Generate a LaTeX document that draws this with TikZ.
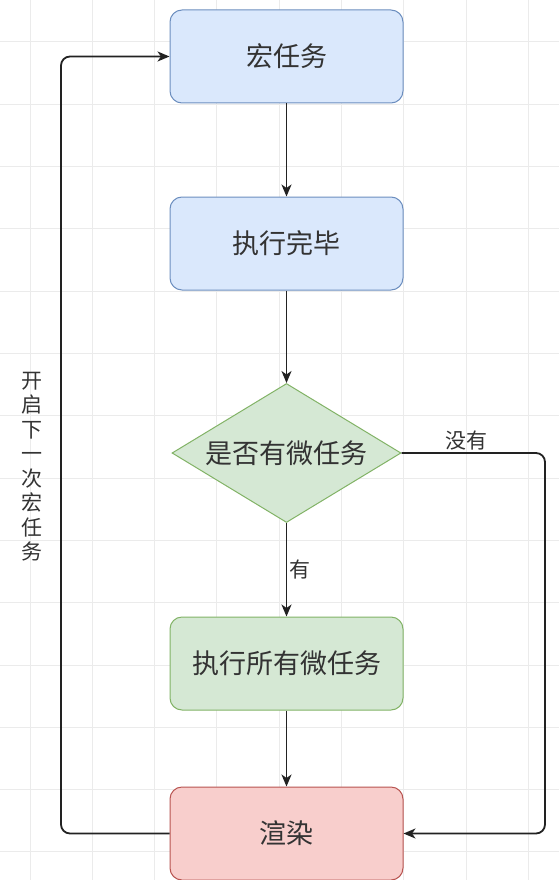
\documentclass[tikz,border=0pt]{standalone}
\usepackage{fontspec}
\usepackage{tikz}
\usetikzlibrary{shapes.geometric,arrows.meta}
\newfontfamily\cjk{Noto Sans CJK SC}
\definecolor{txt}{HTML}{333333}
\definecolor{wire}{HTML}{222222}
\definecolor{gridc}{HTML}{EBEBEB}
\definecolor{bluefill}{HTML}{DAE8FC}
\definecolor{blueline}{HTML}{6C8EBF}
\definecolor{greenfill}{HTML}{D5E8D4}
\definecolor{greenline}{HTML}{82B366}
\definecolor{redfill}{HTML}{F8CECC}
\definecolor{redline}{HTML}{B85450}
\tikzstyle{bluenode}=[draw=blueline,%
                        fill=bluefill,%
                        rectangle,%
                        rounded corners = 12pt,%
                        line width      = 1pt,%
                        minimum width   = 233pt,%
                        minimum height  = 93pt,%
                        text=txt,%
                        font=\cjk\fontsize{27}{32}\selectfont]
\tikzstyle{greennode}=[bluenode,draw=greenline,fill=greenfill]
\tikzstyle{rednode}=[bluenode,draw=redline,fill=redfill]
\tikzstyle{decision}=[draw=greenline,fill=greenfill,diamond,aspect=1.65,inner sep=0pt,
                      minimum width=229pt,minimum height=139pt,line width=1pt,
                      text=txt,font=\cjk\fontsize{27}{32}\selectfont]
\tikzstyle{label}=[text=txt,font=\cjk\fontsize{21}{24.5}\selectfont,inner sep=2pt]
\tikzstyle{wireline}=[->,wire,line width=1.8pt]

\begin{document}
\begin{tikzpicture}[x=1pt,y=-1pt,>={Stealth[length=12pt,width=10pt,inset=3.5pt]}]
            \useasboundingbox (0,0) rectangle (559,880);
            \fill[white] (0,0) rectangle (559,880);
            \foreach \gx in {0,...,8}
              \draw[gridc,line width=1pt] (30+62.3*\gx,0) -- (30+62.3*\gx,880);
            \foreach \gy in {0,...,13}
              \draw[gridc,line width=1pt] (0,42+62.3*\gy) -- (559,42+62.3*\gy);
            \node[bluenode] (task) at (286.5,56.5) {宏任务};
            \node[bluenode][below of=task,node distance=187pt] (done) {执行完毕};
            \node[decision][below of=done,node distance=209.5pt] (ask) {是否有微任务};
            \node[greennode][below of=ask,node distance=210.5pt] (micro) {执行所有微任务};
            \node[rednode][below of=micro,node distance=170pt] (paint) {渲染};
            \coordinate (rc) at (545,453);
            \coordinate (lc) at (61,833.5);
            \draw [wireline] (task.south) -- (done.north);
            \draw [wireline] (done.south) -- (ask.north);
            \draw [wireline] (ask.south) -- node[label,right] {有} (micro.north);
            \draw [wireline] (micro.south) -- (paint.north);
            \draw [wireline,rounded corners=9pt] (ask.east) -- node[label,above,pos=.45] {没有} (rc) |- (paint.east);
            \draw [wireline,rounded corners=9pt] (paint.west) -- (lc) |- node[label,left=16pt,pos=.236,align=center] {开\\启\\下\\一\\次\\宏\\任\\务} (task.west);
  \end{tikzpicture}
\end{document}
